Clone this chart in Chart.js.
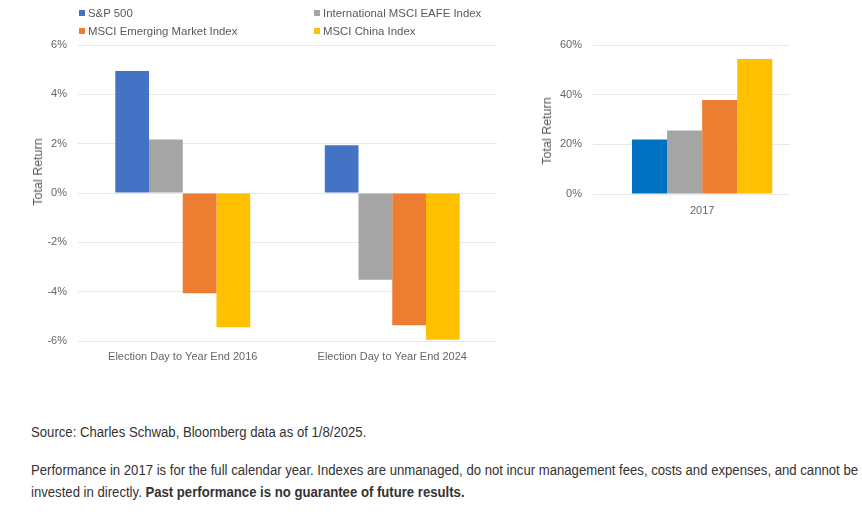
<!DOCTYPE html>
<html>
<head>
<meta charset="utf-8">
<script src="https://cdn.jsdelivr.net/npm/chart.js@4.4.1/dist/chart.umd.min.js"></script>
<style>
  html,body{margin:0;padding:0;background:#fff;}
  body{width:862px;height:515px;position:relative;overflow:hidden;font-family:"Liberation Sans",Arial,sans-serif;}
  canvas{position:absolute;}
  .lg{position:absolute;font-size:11.4px;color:#595959;white-space:nowrap;line-height:13px;}
  .lg i{display:inline-block;width:6px;height:6px;margin-right:3px;vertical-align:1px;}
  .yt{position:absolute;font-size:12.5px;color:#595959;white-space:nowrap;transform:translate(-50%,-50%) rotate(-90deg);}
  .ft{position:absolute;left:31px;color:#333;white-space:nowrap;font-family:"Liberation Sans",Arial,sans-serif;font-size:14px;line-height:18px;transform-origin:0 50%;}
</style>
</head>
<body>
<canvas id="c1" width="510" height="375" style="left:0;top:0;width:510px;height:375px"></canvas>
<canvas id="c2" width="300" height="230" style="left:520px;top:0;width:300px;height:230px"></canvas>

<div class="lg" style="left:79px;top:7px"><i style="background:#4472C4"></i>S&amp;P 500</div>
<div class="lg" style="left:314px;top:7px"><i style="background:#A5A5A5"></i>International MSCI EAFE Index</div>
<div class="lg" style="left:79px;top:25px"><i style="background:#ED7D31"></i>MSCI Emerging Market Index</div>
<div class="lg" style="left:314px;top:25px"><i style="background:#FFC000"></i>MSCI China Index</div>

<div class="yt" style="left:38px;top:172px">Total Return</div>
<div class="yt" style="left:547px;top:131px">Total Return</div>

<div class="ft" id="f1" style="top:423px">Source: Charles Schwab, Bloomberg data as of 1/8/2025.</div>
<div class="ft" id="f2" style="top:461px">Performance in 2017 is for the full calendar year. Indexes are unmanaged, do not incur management fees, costs and expenses, and cannot be</div>
<div class="ft" id="f3" style="top:483px">invested in directly. <b>Past performance is no guarantee of future results.</b></div>

<script>
// ---- Data ----
const seriesNames = ["S&P 500", "International MSCI EAFE Index", "MSCI Emerging Market Index", "MSCI China Index"];
const periodCategories = ["Election Day to Year End 2016", "Election Day to Year End 2024"];
const sp500Period = [4.95, 1.94];
const eafePeriod = [2.17, -3.52];
const emergingPeriod = [-4.06, -5.36];
const chinaPeriod = [-5.44, -5.95];

const yearCategories = ["2017"];
const sp500Year = [21.9];
const eafeYear = [25.6];
const emergingYear = [37.9];
const chinaYear = [54.4];

const periodTicks = [-6, -4, -2, 0, 2, 4, 6];
const yearTicks = [0, 20, 40, 60];

// ---- Footer text fit (layout only) ----
(function () {
  const w = document.getElementById("f2").getBoundingClientRect().width;
  const k = 827 / w;
  ["f1", "f2", "f3"].forEach(id => {
    document.getElementById(id).style.transform = "scaleX(" + k + ")";
  });
})();

// ---- Styles ----
const colorsLeft = ["#4472C4", "#A5A5A5", "#ED7D31", "#FFC000"];
const colorsRight = ["#0070C0", "#A5A5A5", "#ED7D31", "#FFC000"];
const tickColor = "#666666";
const gridColor = "#E8E8E8";
Chart.defaults.font.family = '"Liberation Sans", Arial, sans-serif';
Chart.defaults.font.size = 11;
Chart.defaults.color = tickColor;

function mkDatasets(arrs, colors) {
  return arrs.map((d, i) => ({
    label: seriesNames[i], data: d, backgroundColor: colors[i],
    borderWidth: 0, barPercentage: 1.0
  }));
}

// Left chart
new Chart(document.getElementById("c1"), {
  type: "bar",
  data: {
    labels: periodCategories,
    datasets: mkDatasets([sp500Period, eafePeriod, emergingPeriod, chinaPeriod], colorsLeft)
      .map(d => Object.assign(d, {categoryPercentage: 0.644}))
  },
  options: {
    responsive: false, animation: false,
    layout: {padding: {top: 45, right: 13, left: 0, bottom: 0}},
    plugins: {legend: {display: false}, tooltip: {enabled: false}},
    scales: {
      x: {
        grid: {display: false, drawTicks: false}, border: {display: false},
        ticks: {padding: 9, color: tickColor, maxRotation: 0},
        afterFit: s => { s.height = 34; }
      },
      y: {
        min: -6, max: 6,
        afterBuildTicks: s => { s.ticks = periodTicks.map(v => ({value: v})); },
        ticks: {padding: 11, color: tickColor, callback: v => v + "%"},
        grid: {color: gridColor, drawTicks: false, lineWidth: 1}, border: {display: false},
        afterFit: s => { s.width = 78; }
      }
    }
  }
});

// Right chart (linear index axis so the bar group sits where the reference has it)
new Chart(document.getElementById("c2"), {
  type: "bar",
  data: {
    labels: yearCategories,
    datasets: mkDatasets([sp500Year, eafeYear, emergingYear, chinaYear], colorsRight)
      .map(d => Object.assign(d, {categoryPercentage: 0.712}))
  },
  options: {
    responsive: false, animation: false,
    layout: {padding: {top: 45, right: 30, left: 0, bottom: 0}},
    plugins: {legend: {display: false}, tooltip: {enabled: false}},
    scales: {
      x: {
        type: "linear", offset: false,
        min: Number(yearCategories[0]) - 0.554, max: Number(yearCategories[0]) + 0.446,
        afterBuildTicks: s => { s.ticks = yearCategories.map(v => ({value: Number(v)})); },
        grid: {display: false, drawTicks: false}, border: {display: false},
        ticks: {padding: 10, color: tickColor, callback: v => String(v)},
        afterFit: s => { s.height = 36; }
      },
      y: {
        min: 0, max: 60,
        afterBuildTicks: s => { s.ticks = yearTicks.map(v => ({value: v})); },
        ticks: {padding: 11, color: tickColor, callback: v => v + "%"},
        grid: {color: gridColor, drawTicks: false}, border: {display: false},
        afterFit: s => { s.width = 73; }
      }
    }
  }
});
</script>
</body>
</html>
